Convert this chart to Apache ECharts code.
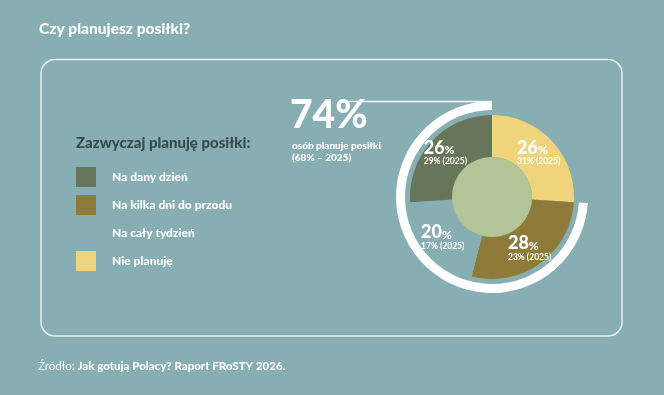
<!DOCTYPE html>
<html><head><meta charset="utf-8">
<script src="https://cdn.jsdelivr.net/npm/echarts@6/dist/echarts.min.js"></script>
<style>html,body{margin:0;padding:0;background:#86aeb3;}#c{width:664px;height:395px;}</style>
</head><body><div id="c"></div>
<script>
// Data (clockwise from 12 o'clock)
const categories = ['Nie planuję', 'Na kilka dni do przodu', 'Na cały tydzień', 'Na dany dzień'];
const shares2026 = [26, 28, 20, 26];
const shares2025 = [31, 23, 17, 29];
const legendOrder = ['Na dany dzień', 'Na kilka dni do przodu', 'Na cały tydzień', 'Nie planuję'];
const planningTotal = 74;
const planningTotal2025 = 68;
const notPlanning = 26;

const BG = '#86aeb3';
const colors = ['#f0d47c', '#8e7b39', BG, '#677659'];
const FONT = 'Lato';

const chart = echarts.init(document.getElementById('c'));
const cx = 492, cy = 197;

chart.setOption({
  backgroundColor: BG,
  animation: false,
  title: {
    text: 'Czy planujesz posiłki?', left: 39, top: 21, padding: 0,
    textStyle: { color: '#ffffff', fontFamily: FONT, fontWeight: 900, fontSize: 15.5 }
  },
  legend: {
    data: legendOrder, orient: 'vertical', left: 76, top: 167, padding: 0,
    icon: 'rect', itemWidth: 20, itemHeight: 20, itemGap: 8,
    selectedMode: false,
    textStyle: { color: '#ffffff', fontFamily: FONT, fontWeight: 900, fontSize: 12, padding: [0, 0, 0, 11] }
  },
  graphic: [
    { type: 'rect', shape: { x: 41, y: 59.5, width: 581, height: 276.5, r: 14 }, silent: true,
      style: { fill: 'none', stroke: '#e8f0f0', lineWidth: 1.5 } },
    { type: 'text', left: 76, top: 136, silent: true,
      style: { text: 'Zazwyczaj planuję posiłki:', fill: '#3a494e', font: '900 15px Lato' } },
    { type: 'line', shape: { x1: 349, y1: 101.5, x2: cx, y2: 101.5 }, silent: true, z: 5,
      style: { stroke: '#f4f8f8', lineWidth: 1.5 } },
    { type: 'text', left: 290, top: 96, silent: true,
      style: { text: planningTotal + '%', fill: '#ffffff', font: '900 39px Lato' } },
    { type: 'text', left: 292, top: 140, silent: true,
      style: { text: 'osób planuje posiłki\n(' + planningTotal2025 + '% – 2025)', fill: '#ffffff', font: '900 10px Lato', lineHeight: 12 } },
    { type: 'text', left: 38, top: 360, silent: true,
      style: { rich: { a: { fill: '#ffffff', font: '11.5px Lato' }, b: { fill: '#ffffff', font: '900 11.5px Lato' } },
               text: '{a|Źródło: }{b|Jak gotują Polacy? Raport FRoSTY 2026.}' } }
  ],
  series: [
    {
      type: 'pie', center: [cx, cy], radius: [87, 96], startAngle: 90, clockwise: true,
      silent: true, label: { show: false }, labelLine: { show: false }, z: 1,
      data: [
        { value: notPlanning, name: 'rest', itemStyle: { color: 'rgba(0,0,0,0)' } },
        { value: planningTotal, name: 'plan', itemStyle: { color: '#ffffff' } }
      ]
    },
    {
      type: 'pie', center: [cx, cy], radius: [40, 82], startAngle: 90, clockwise: true,
      silent: true, z: 2,
      label: {
        show: true, position: 'inside', align: 'left',
        formatter: p => '{n|' + p.value + '}{p|%}\n{s|' + shares2025[p.dataIndex] + '% (2025)}',
        rich: {
          n: { color: '#fff', fontFamily: FONT, fontWeight: 900, fontSize: 18, lineHeight: 17, align: 'left' },
          p: { color: '#fff', fontFamily: FONT, fontWeight: 900, fontSize: 12, lineHeight: 17, verticalAlign: 'bottom', align: 'left' },
          s: { color: '#fff', fontFamily: FONT, fontWeight: 'bold', fontSize: 8.5, lineHeight: 11, align: 'left' }
        }
      },
      labelLine: { show: false },
      data: categories.map((c, i) => ({ name: c, value: shares2026[i], itemStyle: { color: colors[i] } }))
    },
    {
      type: 'pie', center: [cx, cy], radius: [0, 40], silent: true, z: 3,
      label: { show: false }, labelLine: { show: false },
      data: [{ value: 1, name: 'core', itemStyle: { color: '#b3c496' } }]
    }
  ]
});
</script></body></html>
